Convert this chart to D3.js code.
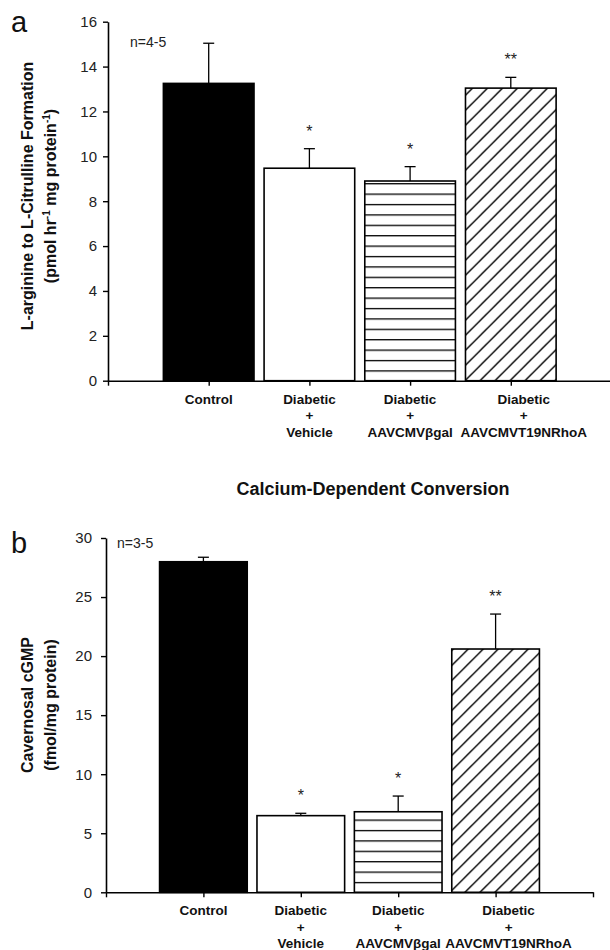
<!DOCTYPE html>
<html>
<head>
<meta charset="utf-8">
<script src="https://cdn.jsdelivr.net/npm/d3@7"></script>
<style>
  body { margin: 0; background: #fff; }
  svg { display: block; font-family: "Liberation Sans", Arial, sans-serif; }
</style>
</head>
<body>
<svg id="chart" width="610" height="950"></svg>
<script>
var categories = [["Control"], ["Diabetic", "+", "Vehicle"], ["Diabetic", "+", "AAVCMVβgal"], ["Diabetic", "+", "AAVCMVT19NRhoA"]];

// panel a: L-arginine -> L-citrulline (mean, upper SEM)
var citrullineMean = [13.25, 9.47, 8.90, 13.04];
var citrullineSem = [1.79, 0.87, 0.64, 0.48];
var citrullineStars = ["", "*", "*", "**"];
var citrullineTicks = [0, 2, 4, 6, 8, 10, 12, 14, 16];

// panel b: cavernosal cGMP
var cgmpMean = [27.99, 6.49, 6.82, 20.6];
var cgmpSem = [0.38, 0.20, 1.33, 2.96];
var cgmpStars = ["", "*", "*", "**"];
var cgmpTicks = [0, 5, 10, 15, 20, 25, 30];

var xTicks = [0, 1, 2, 3, 4, 5];

var svg = d3.select("#chart");
var defs = svg.append("defs");
var fillKind = ["solid", "open", "hlines", "diag"];
// last label is pushed right in the original so it clears "AAVCMVβgal"
var labelNudge = [0, 0, 0, 13];

function makePatterns(id, y0) {
  var h = defs.append("pattern")
              .attr("id", "hl" + id)
              .attr("patternUnits", "userSpaceOnUse")
              .attr("width", 20)
              .attr("height", 10.4)
              .attr("patternTransform", "translate(0," + y0 + ")");
  h.append("line")
   .attr("x1", 0).attr("x2", 20)
   .attr("y1", 0.5).attr("y2", 0.5)
   .attr("stroke", "#000")
   .attr("stroke-width", 1.6);

  var d = defs.append("pattern")
              .attr("id", "dg" + id)
              .attr("patternUnits", "userSpaceOnUse")
              .attr("width", 15)
              .attr("height", 15)
              .attr("patternTransform", "translate(0," + y0 + ")");
  d.append("path")
   .attr("d", "M0,15L15,0M-4,4L4,-4M11,19L19,11")
   .attr("stroke", "#000")
   .attr("stroke-width", 1.4);
}

function drawPanel(p) {
  var x = d3.scaleLinear().domain([0, 5]).range(p.xRange);
  var y = d3.scaleLinear().domain([0, p.ticks[p.ticks.length - 1]]).range(p.yRange);
  var step = x(1) - x(0);
  var bw = step * 0.9;

  makePatterns(p.id, y(0));

  var g = svg.append("g");

  var rows = p.mean.map(function(m, i) {
    return { i: i, mean: m, top: m + p.sem[i], star: p.stars[i] };
  });

  // error bars first, bars drawn over them
  var err = g.selectAll(".err").data(rows).enter().append("g").attr("class", "err");
  err.append("line")
     .attr("x1", function(d) { return x(d.i + 1); })
     .attr("x2", function(d) { return x(d.i + 1); })
     .attr("y1", function(d) { return y(d.mean); })
     .attr("y2", function(d) { return y(d.top); })
     .attr("stroke", "#000").attr("stroke-width", 1.3);
  err.append("line")
     .attr("x1", function(d) { return x(d.i + 1) - 5.5; })
     .attr("x2", function(d) { return x(d.i + 1) + 5.5; })
     .attr("y1", function(d) { return y(d.top); })
     .attr("y2", function(d) { return y(d.top); })
     .attr("stroke", "#000").attr("stroke-width", 1.3);

  g.selectAll(".bar").data(rows).enter().append("rect")
   .attr("class", "bar")
   .attr("x", function(d) { return x(d.i + 1) - bw / 2; })
   .attr("width", bw)
   .attr("y", function(d) { return y(d.mean); })
   .attr("height", function(d) { return y(0) - y(d.mean); })
   .attr("fill", function(d) {
      var k = fillKind[d.i];
      if (k == "solid") return "#000";
      if (k == "hlines") return "url(#hl" + p.id + ")";
      if (k == "diag") return "url(#dg" + p.id + ")";
      return "#fff";
   })
   .attr("stroke", "#000")
   .attr("stroke-width", 1.6);

  g.selectAll(".star").data(rows).enter().append("text")
   .attr("class", "star")
   .attr("x", function(d) { return x(d.i + 1); })
   .attr("y", function(d) { return y(d.top) - 12; })
   .attr("text-anchor", "middle")
   .attr("font-size", 16)
   .attr("fill", "#222")
   .text(function(d) { return d.star; });

  // axes
  var yAxis = g.append("g")
               .attr("transform", "translate(" + x(0) + ",0)")
               .call(d3.axisLeft(y).tickValues(p.ticks).tickSize(5).tickSizeOuter(0).tickPadding(p.pad));
  var xAxis = g.append("g")
               .attr("transform", "translate(0," + y(0) + ")")
               .call(d3.axisBottom(x).tickValues(xTicks).tickSize(5).tickSizeOuter(0).tickFormat(""));

  [yAxis, xAxis].forEach(function(a) {
    a.select(".domain").attr("stroke-width", 1.6);
    a.selectAll(".tick line").attr("stroke-width", 1.4);
  });
  yAxis.selectAll("text")
       .attr("font-family", "Liberation Sans, Arial, sans-serif")
       .attr("font-size", 15)
       .attr("fill", "#222");

  var lab = g.selectAll(".cat").data(categories).enter().append("text")
             .attr("class", "cat")
             .attr("text-anchor", "middle")
             .attr("font-size", 13.5)
             .attr("font-weight", "bold")
             .attr("fill", "#111");
  lab.selectAll("tspan")
     .data(function(d, i) { return d.map(function(s) { return { s: s, i: i }; }); })
     .enter().append("tspan")
     .attr("x", function(d) { return x(d.i + 1) + labelNudge[d.i]; })
     .attr("y", function(d, j) { return y(0) + 23 + j * 16.5; })
     .text(function(d) { return d.s; });

  // y title, two lines
  var yt = g.append("g")
            .attr("font-size", 16)
            .attr("font-weight", "bold")
            .attr("fill", "#111");
  yt.append("text")
    .attr("transform", "translate(33," + p.labelY + ") rotate(-90)")
    .attr("text-anchor", "middle")
    .text(p.title1);
  var t2 = yt.append("text")
             .attr("transform", "translate(56," + p.labelY + ") rotate(-90)")
             .attr("text-anchor", "middle");
  p.title2.forEach(function(part) {
    t2.append("tspan")
      .attr("font-size", part.sup ? 10 : 16)
      .attr("dy", part.sup ? -6 : (part.after ? 6 : 0))
      .text(part.t);
  });

  g.append("text")
   .attr("x", p.nX).attr("y", p.nY)
   .attr("font-size", 14)
   .attr("fill", "#222")
   .text(p.n);

  g.append("text")
   .attr("x", 11).attr("y", p.letterY)
   .attr("font-size", 29)
   .attr("fill", "#111")
   .text(p.letter);
}

drawPanel({
  id: "a", letter: "a", letterY: 32,
  mean: citrullineMean, sem: citrullineSem, stars: citrullineStars, ticks: citrullineTicks,
  xRange: [108, 611.5], yRange: [380.7, 21.7], pad: 6,
  title1: "L-arginine to L-Citrulline Formation",
  title2: [{ t: "(pmol hr" }, { t: "-1", sup: true }, { t: " mg protein", after: true }, { t: "-1", sup: true }, { t: ")", after: true }],
  labelY: 196, n: "n=4-5", nX: 130, nY: 47
});

drawPanel({
  id: "b", letter: "b", letterY: 553,
  mean: cgmpMean, sem: cgmpSem, stars: cgmpStars, ticks: cgmpTicks,
  xRange: [106, 593], yRange: [892.3, 538], pad: 9,
  title1: "Cavernosal cGMP",
  title2: [{ t: "(fmol/mg protein)" }],
  labelY: 705, n: "n=3-5", nX: 117, nY: 548
});

svg.append("text")
   .attr("x", 373).attr("y", 495)
   .attr("text-anchor", "middle")
   .attr("font-size", 18)
   .attr("font-weight", "bold")
   .attr("fill", "#111")
   .text("Calcium-Dependent Conversion");
</script>
</body>
</html>
